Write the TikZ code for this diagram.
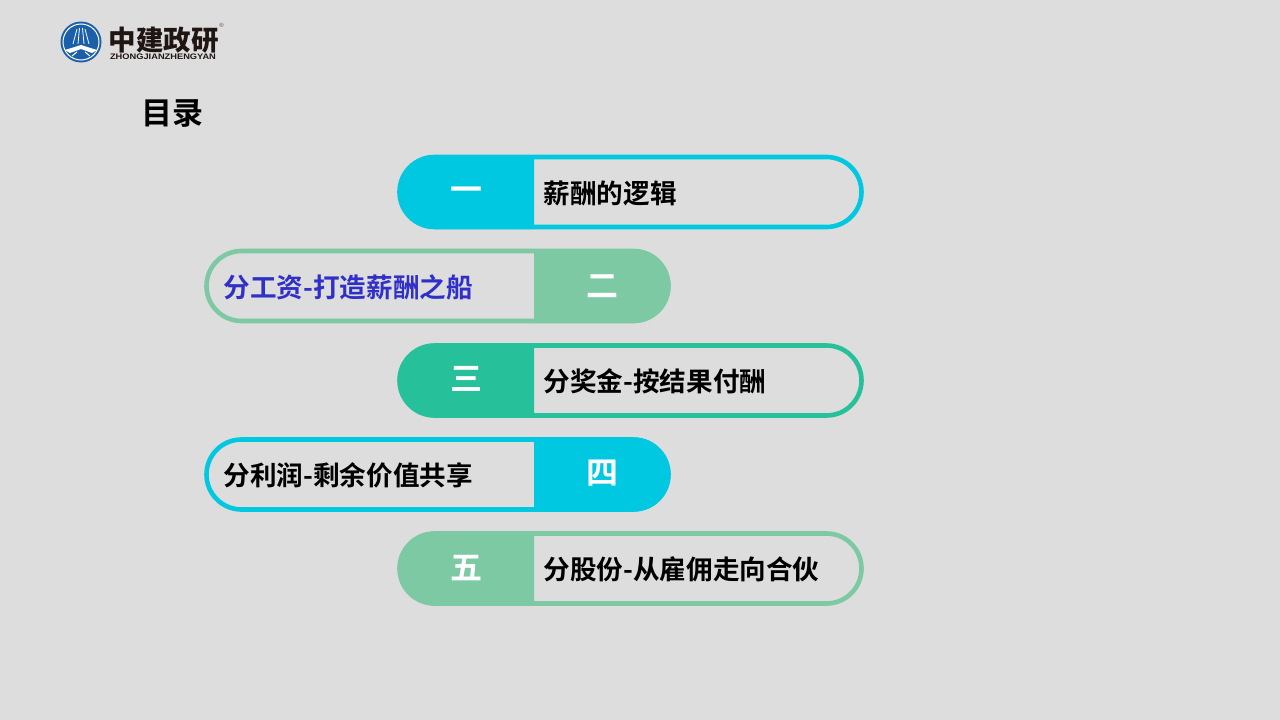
\documentclass[tikz,border=0pt]{standalone}
\usepackage{fontspec}
\setmainfont{Noto Sans CJK SC}
\newfontfamily\cjkb{Noto Sans CJK SC Bold}
\newfontfamily\cjkk{Noto Sans CJK SC Black}
\newfontfamily\lat{Liberation Sans Bold}
\usetikzlibrary{shapes.misc}
\definecolor{bg}{HTML}{DDDDDD}
\definecolor{cy}{HTML}{00C8E0}
\definecolor{gr}{HTML}{7CC9A4}
\definecolor{te}{HTML}{26C19A}
\definecolor{bl}{HTML}{3030C8}
\definecolor{lg}{HTML}{1F1512}
\definecolor{lb}{HTML}{1B5FA8}
\tikzset{x=1pt,y=-1pt,
 lab/.style={anchor=west,inner sep=0,font=\cjkb\fontsize{26.6}{30}\selectfont,text=black},
 num/.style={inner sep=0,font=\cjkb\fontsize{32}{36}\selectfont,text=white},
 pill/.style={draw=#1,line width=4.6pt,fill=none,rounded rectangle,minimum width=462pt,minimum height=70pt,inner sep=0}
}
\newcommand{\pillR}[6]{% y, colour, numeral, label, name, numeral y
 \fill[#2] (534,#1-37) -- (435,#1-37) arc[start angle=-90,delta angle=-180,radius=37] -- (534,#1+37) -- cycle;
 \node[pill=#2] (p#5) at (630.5,#1) {};
 \node[num] (n#5) at (466,#6) {#3};
 \node[lab] (t#5) at (543.5,#1+1) {#4};
}
\newcommand{\pillL}[7]{% y, colour, numeral, label, name, text colour, numeral y
 \fill[#2] (534,#1-37) -- (633.5,#1-37) arc[start angle=-90,delta angle=180,radius=37] -- (534,#1+37) -- cycle;
 \node[pill=#2] (p#5) at (437.5,#1) {};
 \node[num] (n#5) at (602,#7) {#3};
 \node[lab,text=#6] (t#5) at (223.5,#1+1) {#4};
}
\begin{document}
\begin{tikzpicture}
\useasboundingbox (0,0) rectangle (1280,720);
\fill[bg] (0,0) rectangle (1280,720);
% logo
\fill[lb] (81,42) circle[radius=20.5];
\draw[white,line width=1pt] (81,42) circle[radius=18];
\fill[white] (65,50) -- (81,45) -- (97,50) -- (92,53) -- (81,49) -- (70,53) -- cycle;
\draw[white,line width=.8pt] (73,44) -- (77,29) (78,44) -- (79.5,28) (84,44) -- (82.5,28) (89,44) -- (85,29);
\draw[white,line width=1pt] (72,56) -- (77,52) (90,56) -- (85,52);
\node[inner sep=0,font=\cjkk\fontsize{27.5}{30}\selectfont,text=lg] (logo) at (163.5,40) {中建政研};
\node[inner sep=0,xscale=1.16,font=\lat\fontsize{8}{8}\selectfont,text=lg] (logosub) at (163,57) {ZHONGJIANZHENGYAN};
\node[inner sep=0,font=\lat\fontsize{6}{6}\selectfont,text=lg!60] (reg) at (221.5,25.5) {®};
% title
\node[inner sep=0,font=\cjkb\fontsize{31}{34}\selectfont,text=black] (title) at (172.5,113.5) {目录};
\pillR{192}{cy}{一}{薪酬的逻辑}{a}{194}
\pillL{286}{gr}{二}{分工资-打造薪酬之船}{b}{bl}{286.5}
\pillR{380.5}{te}{三}{分奖金-按结果付酬}{c}{378.5}
\pillL{474.5}{cy}{四}{分利润-剩余价值共享}{d}{black}{473.5}
\pillR{568.5}{gr}{五}{分股份-从雇佣走向合伙}{e}{568.5}
\end{tikzpicture}
\end{document}
